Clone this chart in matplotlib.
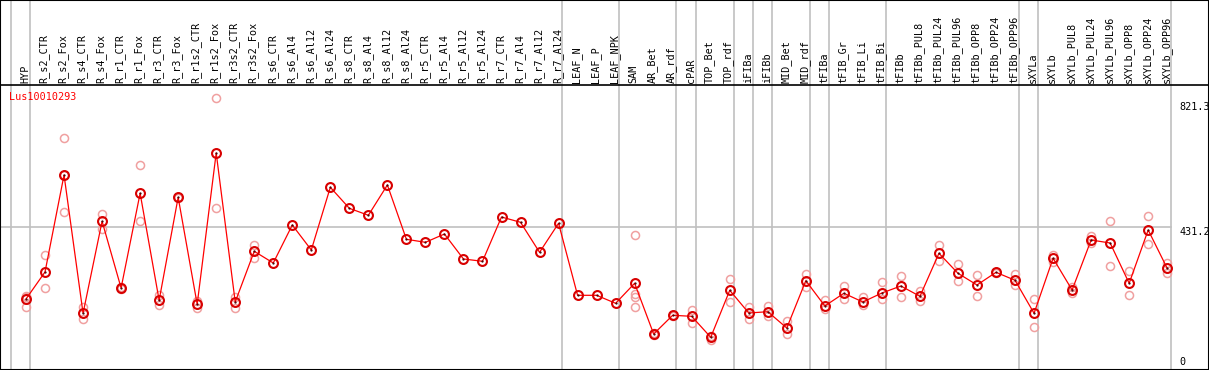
import matplotlib
matplotlib.use("Agg")
import matplotlib.pyplot as plt

W, H = 1209, 370

labels = ["HYP",
          "R_s2_CTR", "R_s2_Fox", "R_s4_CTR", "R_s4_Fox", "R_r1_CTR", "R_r1_Fox",
          "R_r3_CTR", "R_r3_Fox", "R_r1s2_CTR", "R_r1s2_Fox", "R_r3s2_CTR", "R_r3s2_Fox",
          "R_s6_CTR", "R_s6_Al4", "R_s6_Al12", "R_s6_Al24",
          "R_s8_CTR", "R_s8_Al4", "R_s8_Al12", "R_s8_Al24",
          "R_r5_CTR", "R_r5_Al4", "R_r5_Al12", "R_r5_Al24",
          "R_r7_CTR", "R_r7_Al4", "R_r7_Al12", "R_r7_Al24",
          "LEAF_N", "LEAF_P", "LEAF_NPK", "SAM", "AR_Bet", "AR_rdf", "cPAR",
          "TOP_Bet", "TOP_rdf", "iFIBa", "iFIBb", "MID_Bet", "MID_rdf",
          "tFIBa", "tFIB_Gr", "tFIB_Li", "tFIB_Bi", "tFIBb",
          "tFIBb_PUL8", "tFIBb_PUL24", "tFIBb_PUL96", "tFIBb_OPP8", "tFIBb_OPP24", "tFIBb_OPP96",
          "sXYLa", "sXYLb",
          "sXYLb_PUL8", "sXYLb_PUL24", "sXYLb_PUL96", "sXYLb_OPP8", "sXYLb_OPP24", "sXYLb_OPP96"]

means = [214.6, 296.3, 589.5, 171.4, 449.5, 247.9, 534.2, 210.7, 522.1, 198.6,
         656.0, 205.6, 358.8, 323.5, 438.3, 362.8, 552.3, 488.8, 467.7, 559.3,
         395.1, 386.0, 411.1, 335.6, 328.6, 462.5, 446.5, 355.8, 443.5, 225.8,
         225.8, 201.6, 262.1, 108.8, 165.4, 162.3, 98.9, 240.9, 172.3, 176.2,
         127.0, 270.0, 193.5, 231.9, 205.6, 232.8, 253.9, 222.8, 352.8, 292.3,
         257.0, 295.3, 271.2, 171.4, 337.7, 241.8, 393.0, 383.9, 262.1, 423.2,
         307.4]

replicates = [[224.6, 220.7, 189.5], [347.6, 247.0], [700.4, 476.7, 589.5],
              [189.5, 153.3], [471.6, 425.3], [250.0, 246.0], [618.8, 449.5],
              [227.6, 195.6], [524.0, 520.0], [208.6, 186.5], [821.3, 489.7],
              [221.6, 187.4], [378.8, 339.5],
              [], [], [], [], [], [], [], [], [], [], [], [], [], [], [], [], [], [], [],
              [407.2, 229.7, 219.8, 189.5], [111.0, 105.0], [167.0, 163.0],
              [181.4, 141.2], [90.7, 102.8], [274.2, 205.6], [189.5, 155.1],
              [194.4, 163.2], [149.0, 107.9], [290.2, 250.0], [211.6, 183.5],
              [253.9, 214.6], [221.6, 196.5], [266.0, 215.5], [284.2, 220.7],
              [238.8, 207.7], [377.9, 328.6], [320.4, 268.1], [286.3, 223.7],
              [297.0, 293.0], [290.2, 256.0], [213.7, 129.1], [346.7, 327.4],
              [251.8, 231.9], [405.1, 383.0], [450.4, 314.4], [299.3, 225.8],
              [465.5, 380.0], [322.6, 294.1]]

group_starts = [0, 1, 29, 32, 35, 36, 38, 39, 40, 42, 43, 46, 53, 54, 61]
y_marks = [821.3, 431.2, 0]
gene = "Lus10010293"

mono = "DejaVu Sans Mono"
fs = 7.3

fig = plt.figure(figsize=(W / 100, H / 100), dpi=100)
ax = fig.add_axes([0, 0, 1, 1])
x0, dx = 26, 19.02
ax.set_xlim(-x0 / dx, (W - x0) / dx)
ax.set_ylim(0, H / 0.3308)
ax.set_xticks([])
ax.set_yticks([])
for s in ax.spines.values():
    s.set_color("black")
    s.set_linewidth(1.5)

# header separator
head_y = (H - 85) / 0.3308
ax.axhline(head_y, color="black", lw=1.2, zorder=3)

# group lines
for g in group_starts:
    ax.axvline(g - 0.8, color="#c0c0c0", lw=1.2, zorder=1)
ax.plot([-x0 / dx, len(labels) - 0.8], [y_marks[1], y_marks[1]], color="#c0c0c0", lw=1.2, zorder=1)

xs = list(range(len(labels)))
for i, reps in enumerate(replicates):
    if reps:
        ax.plot([i] * len(reps), reps, ls="", marker="o", ms=5.8, mfc="none",
                mec="#f0a0a0", mew=1.1, zorder=2)
ax.plot(xs, means, color="red", lw=0.9, zorder=4)
ax.plot(xs, means, ls="", marker="o", ms=6.4, mfc="none", mec="#d80000", mew=1.5, zorder=5)
ax.plot(xs, means, ls="", marker="o", ms=0.6, color="#400000", zorder=6)

for i, lab in enumerate(labels):
    ax.text(i - 0.05, (H - 83) / 0.3308, lab, rotation=90, ha="center", va="bottom",
            fontsize=fs, family=mono)

ax.text(9 / W, 1 - 97 / H, gene, color="red", fontsize=fs, family=mono,
        ha="left", va="center", transform=ax.transAxes)

offs = [-9, -5, 8]
for v, o in zip(y_marks, offs):
    ax.annotate(f"{v:g}", xy=(1179 / W, v), xycoords=("axes fraction", "data"),
                xytext=(0, o), textcoords="offset pixels", ha="left", va="center",
                fontsize=fs, family=mono)

fig.savefig("out.png", dpi=100)
